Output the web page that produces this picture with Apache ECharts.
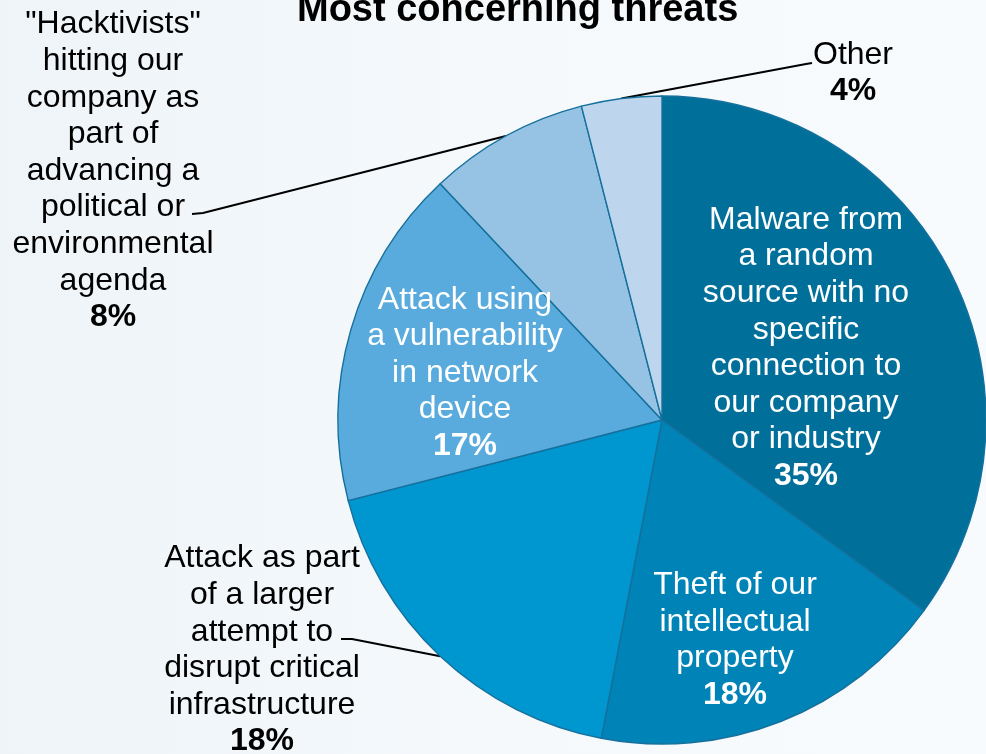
<!DOCTYPE html>
<html>
<head>
<meta charset="utf-8">
<script src="https://cdn.jsdelivr.net/npm/echarts@6/dist/echarts.min.js"></script>
<style>
  html, body { margin: 0; padding: 0; background: #f5f9fc; }
  #chart { width: 986px; height: 754px; }
</style>
</head>
<body>
<div id="chart"></div>
<script>
// Threat categories (line breaks as they are set in the labels)
const categories = [
  'Malware from\na random\nsource with no\nspecific\nconnection to\nour company\nor industry',
  'Theft of our\nintellectual\nproperty',
  'Attack as part\nof a larger\nattempt to\ndisrupt critical\ninfrastructure',
  'Attack using\na vulnerability\nin network\ndevice',
  '"Hacktivists"\nhitting our\ncompany as\npart of\nadvancing a\npolitical or\nenvironmental\nagenda',
  'Other'
];
// Share of respondents, percent
const shares = [35, 18, 18, 17, 8, 4];
const titleText = 'Most concerning threats';

// ---- styling ----
const sliceColors = ['#00709b', '#0083b7', '#0096d0', '#5aabdd', '#96c2e4', '#bdd6ed'];
const labelInside = [true, true, false, true, false, false];
// centre of each label block
const labelAnchors = [[806, 348], [735, 640], [262, 650], [465, 373], [113, 171], [853, 73]];
// bend and end of the leader lines for the outside labels
const leaderTail = {
  2: [[352, 639], [341, 639]],
  4: [[203, 213], [192, 214]],
  5: [[806, 64], [812, 63]]
};
const FONT = '"Liberation Sans", Arial, sans-serif';

const pieData = categories.map(function (name, i) {
  const inside = labelInside[i];
  return {
    name: name,
    value: shares[i],
    itemStyle: { color: sliceColors[i] },
    label: {
      position: inside ? 'inside' : 'outside',
      rich: {
        n: { fontFamily: FONT, fontSize: 32, lineHeight: 36.6, color: inside ? '#ffffff' : '#000000', align: 'center' },
        p: { fontFamily: FONT, fontSize: 32, lineHeight: 36.6, fontWeight: 'bold', color: inside ? '#ffffff' : '#000000', align: 'center' }
      }
    },
    labelLine: { show: !inside }
  };
});

const chart = echarts.init(document.getElementById('chart'), null, { renderer: 'canvas' });
chart.setOption({
  animation: false,
  backgroundColor: {
    type: 'linear', x: 0, y: 0, x2: 1, y2: 0,
    colorStops: [
      { offset: 0, color: '#eff4f8' },
      { offset: 0.5, color: '#f5f9fc' },
      { offset: 1, color: '#f8fbfe' }
    ]
  },
  title: {
    text: titleText,
    left: 297,
    top: -8,
    padding: 0,
    textStyle: { fontFamily: FONT, fontSize: 38, fontWeight: 'bold', color: '#000000' }
  },
  series: [{
    type: 'pie',
    center: [662, 420],
    radius: 324,
    startAngle: 90,
    clockwise: true,
    avoidLabelOverlap: false,
    silent: true,
    emphasis: { disabled: true },
    itemStyle: { borderColor: '#15709c', borderWidth: 1.4 },
    label: {
      show: true,
      formatter: function (p) {
        return '{n|' + p.name + '}\n{p|' + p.value + '%}';
      }
    },
    labelLine: {
      lineStyle: { color: '#000000', width: 2 }
    },
    labelLayout: function (params) {
      const i = params.dataIndex;
      const out = {
        x: labelAnchors[i][0],
        y: labelAnchors[i][1],
        align: 'center',
        verticalAlign: 'middle'
      };
      if (!labelInside[i] && params.labelLinePoints) {
        out.labelLinePoints = [params.labelLinePoints[0]].concat(leaderTail[i]);
      }
      return out;
    },
    data: pieData
  }]
});
</script>
</body>
</html>
